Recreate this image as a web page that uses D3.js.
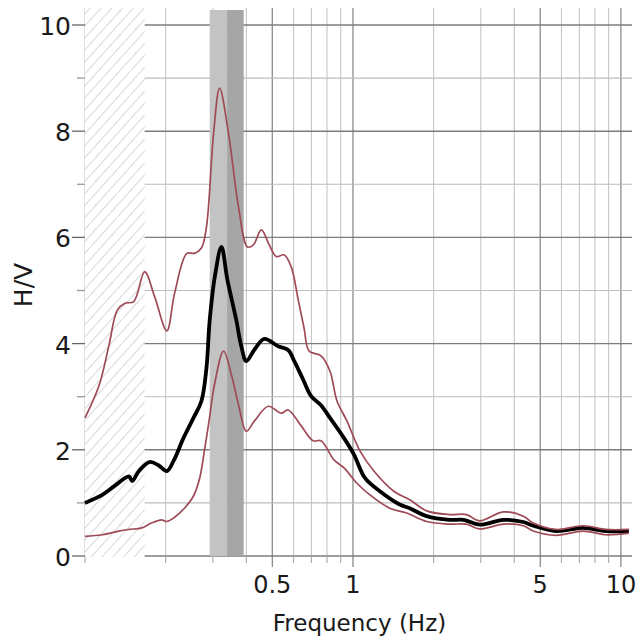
<!DOCTYPE html>
<html>
<head>
<meta charset="utf-8">
<script src="https://cdn.jsdelivr.net/npm/d3@7"></script>
<style>
  html, body { margin: 0; padding: 0; background: #fff; }
  svg { display: block; }
  text { font-family: "DejaVu Sans", Verdana, sans-serif; fill: #1a1a1a; }
</style>
</head>
<body>
<svg id="chart" width="636" height="638"></svg>
<script>
// ---- data ----
const meanFreq = [0.100,0.116,0.129,0.146,0.150,0.159,0.174,0.188,0.202,0.214,0.233,0.254,0.272,0.284,0.292,0.306,0.323,0.340,0.367,0.382,0.400,0.428,0.467,0.526,0.573,0.604,0.652,0.698,0.760,0.821,0.926,1.009,1.108,1.26,1.495,1.629,1.884,2.294,2.586,2.966,3.641,4.323,4.709,5.733,7.225,8.795,10.71];
const meanHV   = [1.00,1.15,1.32,1.50,1.41,1.60,1.77,1.71,1.60,1.79,2.22,2.60,2.92,3.54,4.44,5.30,5.82,5.20,4.44,3.98,3.67,3.88,4.09,3.95,3.88,3.67,3.32,3.01,2.84,2.60,2.22,1.91,1.47,1.22,0.97,0.90,0.75,0.68,0.68,0.59,0.68,0.64,0.57,0.47,0.53,0.47,0.47];

const upperFreq = [0.100,0.113,0.123,0.132,0.141,0.152,0.167,0.182,0.202,0.216,0.240,0.256,0.272,0.284,0.302,0.318,0.343,0.374,0.404,0.425,0.455,0.487,0.517,0.554,0.588,0.625,0.657,0.686,0.760,0.821,0.872,0.950,1.062,1.197,1.42,1.629,1.884,2.294,2.653,2.966,3.641,4.323,4.709,5.733,7.225,8.795,10.71];
const upperHV   = [2.60,3.22,3.98,4.63,4.76,4.79,5.35,4.88,4.24,4.95,5.70,5.70,5.80,6.20,7.97,8.81,7.97,6.57,5.82,5.86,6.14,5.86,5.64,5.67,5.45,4.82,4.29,3.86,3.77,3.48,2.92,2.54,1.98,1.60,1.22,1.06,0.85,0.78,0.78,0.66,0.83,0.75,0.62,0.50,0.57,0.50,0.50];

const lowerFreq = [0.100,0.116,0.134,0.146,0.163,0.177,0.193,0.202,0.216,0.235,0.254,0.268,0.279,0.2915,0.304,0.329,0.352,0.374,0.400,0.4285,0.483,0.540,0.573,0.641,0.710,0.760,0.850,0.926,1.035,1.157,1.372,1.588,1.884,2.294,2.653,2.966,3.641,4.323,4.709,5.733,7.225,8.795,10.71];
const lowerHV   = [0.37,0.40,0.47,0.50,0.53,0.62,0.68,0.65,0.73,0.90,1.13,1.47,1.98,2.60,3.22,3.86,3.41,2.85,2.35,2.54,2.82,2.69,2.75,2.45,2.17,2.17,1.81,1.66,1.37,1.15,0.90,0.81,0.65,0.60,0.60,0.51,0.60,0.57,0.47,0.39,0.47,0.40,0.43];

const xTickLabels = [0.5, 1, 5, 10];
const yTickLabels = [0, 2, 4, 6, 8, 10];
const f0Band = [0.292, 0.339, 0.391];   // f0/σ, f0, f0·σ
const hatchMaxFreq = 0.167;

// ---- layout ----
const svg = d3.select("#chart");
const L = 85, R = 632, T = 8, B = 556;
const x = d3.scaleLog().domain([0.1, 11]).range([L, R]);
const y = d3.scaleLinear().domain([0, 10.32]).range([B, T]);

// grid: vertical (log) lines
const vGrid = [];
for (let d = 0.1; d < 20; d *= 10) for (let k = 1; k <= 9; k++) { const v = +(k * d).toFixed(3); if (v >= 0.1 && v <= 11) vGrid.push(v); }
const isMajorX = v => xTickLabels.includes(v);

svg.append("g").selectAll("line").data(vGrid).join("line")
  .attr("x1", d => x(d)).attr("x2", d => x(d))
  .attr("y1", T).attr("y2", B)
  .attr("stroke", d => isMajorX(d) ? "#8c8c8c" : "#c6c6c6")
  .attr("stroke-width", d => isMajorX(d) ? 1.3 : 1.1);

// grid: horizontal lines
const hGrid = d3.range(0, 11, 1);
svg.append("g").selectAll("line").data(hGrid).join("line")
  .attr("x1", L).attr("x2", R)
  .attr("y1", d => y(d)).attr("y2", d => y(d))
  .attr("stroke", d => d % 2 === 0 ? "#7c7c7c" : "#bdbdbd")
  .attr("stroke-width", d => d % 2 === 0 ? 1.4 : 1.1);

// hatched low-frequency region
const defs = svg.append("defs");
const pat = defs.append("pattern").attr("id", "hatch")
  .attr("patternUnits", "userSpaceOnUse").attr("width", 8).attr("height", 8)
  .attr("patternTransform", "rotate(42)");
pat.append("rect").attr("width", 8).attr("height", 8).attr("fill", "#fff");
pat.append("line").attr("x1", 0).attr("y1", 0).attr("x2", 0).attr("y2", 8)
  .attr("stroke", "#c8c8c8").attr("stroke-width", 1.4);
svg.append("rect")
  .attr("x", x(0.1)).attr("y", T)
  .attr("width", x(hatchMaxFreq) - x(0.1)).attr("height", B - T + 1)
  .attr("fill", "url(#hatch)");

// f0 band
svg.append("rect").attr("x", x(f0Band[0])).attr("y", T + 2)
  .attr("width", x(f0Band[1]) - x(f0Band[0])).attr("height", B - T - 2)
  .attr("fill", "#c3c3c3");
svg.append("rect").attr("x", x(f0Band[1])).attr("y", T + 2)
  .attr("width", x(f0Band[2]) - x(f0Band[1])).attr("height", B - T - 2)
  .attr("fill", "#a6a6a6");

// ticks on axes
svg.append("g").selectAll("line").data(hGrid).join("line")
  .attr("x1", d => d % 2 === 0 ? L - 13 : L - 8).attr("x2", L)
  .attr("y1", d => y(d)).attr("y2", d => y(d))
  .attr("stroke", d => d % 2 === 0 ? "#666" : "#999").attr("stroke-width", 1.3);
svg.append("g").selectAll("line").data(vGrid).join("line")
  .attr("x1", d => x(d)).attr("x2", d => x(d))
  .attr("y1", B).attr("y2", d => isMajorX(d) ? B + 11 : B + 7)
  .attr("stroke", d => isMajorX(d) ? "#777" : "#aaa").attr("stroke-width", 1.1);

// curves
const line = d3.line().x(d => x(d[0])).y(d => y(d[1])).curve(d3.curveCatmullRom.alpha(0.5));
const zip = (a, b) => a.map((v, i) => [v, b[i]]);
svg.append("path").datum(zip(meanFreq, meanHV)).attr("d", line)
  .attr("fill", "none").attr("stroke", "#000").attr("stroke-width", 3.8).attr("stroke-linejoin", "round");
svg.append("path").datum(zip(upperFreq, upperHV)).attr("d", line)
  .attr("fill", "none").attr("stroke", "#9e4b57").attr("stroke-width", 1.7);
svg.append("path").datum(zip(lowerFreq, lowerHV)).attr("d", line)
  .attr("fill", "none").attr("stroke", "#9e4b57").attr("stroke-width", 1.7);

// tick labels
svg.append("g").selectAll("text").data(xTickLabels).join("text")
  .attr("x", d => x(d)).attr("y", 593).attr("text-anchor", "middle")
  .attr("font-size", 24).text(d => d);
svg.append("g").selectAll("text").data(yTickLabels).join("text")
  .attr("x", 71).attr("y", d => y(d) + 10).attr("text-anchor", "end")
  .attr("font-size", 25).text(d => d);

// axis titles
svg.append("text").attr("x", (L + R) / 2 + 1).attr("y", 631).attr("text-anchor", "middle")
  .attr("font-size", 23).text("Frequency (Hz)");
svg.append("text").attr("transform", "translate(32,285) rotate(-90)").attr("text-anchor", "middle")
  .attr("font-size", 25).text("H/V");
</script>
</body>
</html>
